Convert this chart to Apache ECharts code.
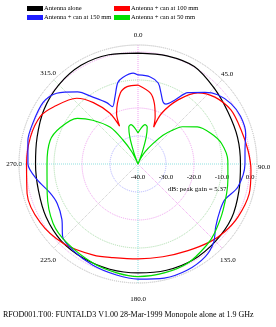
<!DOCTYPE html>
<html>
<head>
<meta charset="utf-8">
<script src="https://cdn.jsdelivr.net/npm/echarts@6/dist/echarts.min.js"></script>
<style>
  html, body { margin: 0; padding: 0; background: #fff; }
  #chart { width: 276px; height: 327px; }
</style>
</head>
<body>
<div id="chart"></div>
<script>
// bearings in degrees (0 = top, clockwise), gain in dB
var aloneDeg = [0, 15, 30, 45, 60, 75, 90, 105, 120, 135, 150, 165, 180, 195, 210, 225, 240, 255, 270, 285, 300, 315, 330, 345, 360];
var aloneDb  = [-0.4, 0, 0.2, -1.6, -2.9, -3.2, -3.4, -2.7, -1.4, -0.9, -0.5, -0.7, -1.1, -1.1, -1.1, -1.2, -2.1, -3.2, -3.4, -2.7, -1.2, 0, 0.7, 0.4, -0.4];

var can100Deg = [0, 10, 15, 20, 23, 25, 32, 40, 49, 60, 72, 83, 93, 105, 118, 128, 137, 150, 165, 180, 195, 206, 223, 239, 255, 270, 284, 296, 304, 317, 324, 331, 334, 337, 346, 352, 360];
var can100Db  = [-11.8, -14.3, -17.5, -22.1, -25.7, -20, -13, -6.8, -3.6, -1.6, -1.2, -0.4, 0.4, 1.1, 0.4, -0.7, -2.1, -4.3, -5.7, -6.1, -5.4, -3.8, -1.1, 0.7, 1, -0.2, -0.4, -1.2, -3.6, -7.9, -12.9, -19.3, -25, -20.4, -13.9, -12.1, -11.8];

var can150Deg = [0, 8, 14, 18, 22, 25, 30, 35, 43, 49, 57, 65, 74, 82, 90, 103, 112, 119, 129, 136, 144, 155, 167, 180, 191, 204, 217, 226, 234, 244, 252, 261, 270, 282, 291, 303, 311, 320, 326, 333, 336, 341, 346, 350, 357, 360];
var can150Db  = [-8.2, -8.6, -10.2, -13.4, -16.1, -16.4, -13.6, -8.9, -5, -2.3, -0.4, 0.4, 0, -1.4, -1.8, -3.4, -6.4, -6.4, -4.3, -1.1, 0.9, 1.8, 1.8, 1.1, 0.4, -0.4, -1.4, -2.6, -6.4, -7.9, -6.9, -3.6, -0.7, 0.2, 0.3, 0.4, -1.5, -6.4, -11.2, -15.4, -17.6, -14.7, -10.1, -8.6, -7.5, -8.2];

var can50Deg = [0, 5, 10, 14, 17, 20, 22, 25, 30, 36, 41, 45, 50, 58, 67, 76, 88, 100, 118, 132, 140, 153, 166, 180, 191, 204, 222, 235, 252, 270, 285, 295, 307, 314, 323, 328, 333, 337, 340, 343, 346, 350, 355, 360];
var can50Db  = [-28.9, -27.1, -25.7, -26.4, -30, -35.7, -40, -37.9, -35, -31.1, -26.4, -23.2, -19.3, -15, -11.8, -9.3, -7.9, -7.4, -5.5, -3.2, -2, -0.4, 0, 0.2, -0.4, -1.1, -2.1, -3, -5.9, -7.5, -7.5, -9.3, -12.9, -17.5, -23.6, -30, -35, -40, -35.7, -30, -26.4, -25.7, -27.1, -28.9];

var seriesNames = ['Antenna alone', 'Antenna + can at 100 mm', 'Antenna + can at 150 mm', 'Antenna + can at 50 mm'];
var seriesColors = ['#000000', '#ff0000', '#2020ff', '#00e000'];

var fontFamily = '"Liberation Serif", "DejaVu Serif", serif';

// the radius axis is drawn at the start angle, so the angle axis starts at 3 o'clock
// and bearings are shifted by 270 to keep 0.0 at the top
function toPolar(deg, db) {
  return deg.map(function (d, i) { return [db[i], (d + 270) % 360]; });
}

var allDeg = [aloneDeg, can100Deg, can150Deg, can50Deg];
var allDb = [aloneDb, can100Db, can150Db, can50Db];

var series = seriesNames.map(function (name, i) {
  return {
    name: name,
    type: 'line',
    coordinateSystem: 'polar',
    showSymbol: false,
    smooth: 0.3,
    silent: true,
    lineStyle: { color: seriesColors[i], width: 1.2 },
    itemStyle: { color: seriesColors[i] },
    data: toPolar(allDeg[i], allDb[i])
  };
});

function legendAt(name, left, top) {
  return {
    data: [name],
    left: left,
    top: top,
    padding: 0,
    icon: 'rect',
    itemWidth: 16,
    itemHeight: 5,
    selectedMode: false,
    textStyle: { fontSize: 6.5, fontFamily: fontFamily, color: '#000', padding: [0, 0, 0, -4] }
  };
}

// nudges for the bearing labels so they sit like the original plot
var labelStyleByBearing = { 0: 'n', 45: 'ne', 90: 'e', 135: 'se', 180: 's', 225: 'se', 270: 'w', 315: 'nw' };
var richBase = { fontSize: 7, fontFamily: fontFamily, color: '#000' };
function rich(pad) { return Object.assign({ padding: pad }, richBase); }

var option = {
  animation: false,
  backgroundColor: '#fff',
  title: {
    text: 'RFOD001.T00: FUNTALD3 V1.00 28-Mar-1999 Monopole alone at 1.9 GHz',
    left: 3,
    top: 311,
    padding: 0,
    textStyle: { fontSize: 8, fontWeight: 'normal', fontFamily: fontFamily, color: '#000' }
  },
  legend: [
    legendAt(seriesNames[0], 27, 5),
    legendAt(seriesNames[1], 114, 5),
    legendAt(seriesNames[2], 27, 14),
    legendAt(seriesNames[3], 114, 14)
  ],
  polar: { center: [138, 164], radius: 119 },
  angleAxis: {
    type: 'value',
    min: 0,
    max: 360,
    interval: 45,
    startAngle: 0,
    clockwise: true,
    axisLine: { lineStyle: { color: '#d0d0d0', type: 'dotted', width: 1 } },
    axisTick: { show: false },
    axisLabel: {
      margin: -3,
      fontSize: 7,
      fontFamily: fontFamily,
      color: '#000',
      formatter: function (v) {
        var b = (v + 90) % 360;
        return '{' + labelStyleByBearing[b] + '|' + b.toFixed(1) + '}';
      },
      rich: {
        n: rich([0, 0, 9, 0]),
        ne: rich([0, 0, 4, 1]),
        e: rich([6, 0, 0, 4]),
        se: rich([11, 0, 0, 0]),
        s: rich([16, 0, 0, 0]),
        w: rich([1, 0, 0, 0]),
        nw: rich([0, 0, 5, 0])
      }
    },
    splitLine: {
      lineStyle: {
        type: 'dotted',
        width: 1,
        color: ['#8fe0e0', '#f0a0f0', '#8fe0e0', '#c8c8c8', '#8fe0e0', '#b8e0b8', '#f0a0f0', '#c8c8c8']
      }
    }
  },
  radiusAxis: {
    type: 'value',
    min: -40,
    max: 2.5,
    interval: 10,
    axisLine: { show: false },
    axisTick: { show: false },
    axisLabel: {
      margin: -17,
      showMaxLabel: false,
      fontSize: 7,
      fontFamily: fontFamily,
      color: '#000',
      formatter: function (v) { return v.toFixed(1); }
    },
    splitLine: {
      lineStyle: {
        type: 'dotted',
        width: 1,
        color: ['#cccccc', '#b0b0ff', '#f0a0f0', '#a8dca8', '#f0a0f0', '#d0d0d0']
      }
    }
  },
  graphic: [{
    type: 'text',
    left: 168,
    top: 186,
    style: { text: 'dB: peak gain = 5.37', fontSize: 7, fontFamily: fontFamily, fill: '#000' }
  }],
  series: series
};

var myChart = echarts.init(document.getElementById('chart'));
myChart.setOption(option);
</script>
</body>
</html>
